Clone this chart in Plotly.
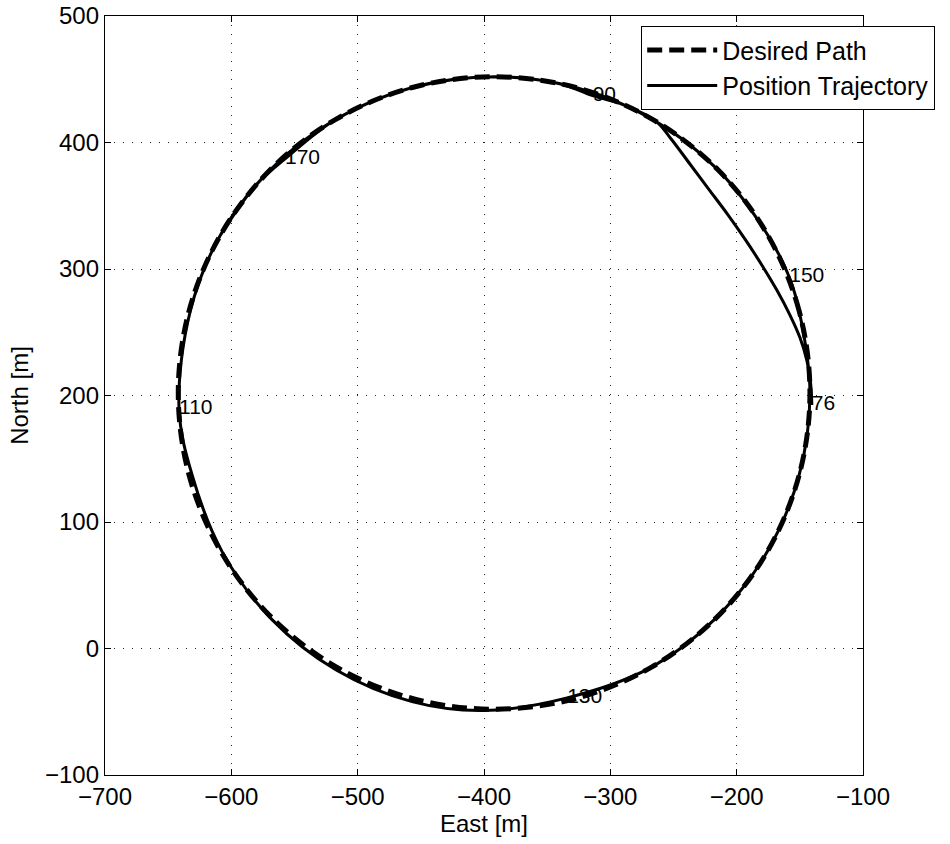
import plotly.graph_objects as go

# desired path (East, North) in metres
desired_east = [-142.0, -150.5, -175.5, -215.2, -267.0, -327.3, -392.0, -456.7,
                -517.0, -568.8, -608.5, -633.5, -642.0, -633.5, -608.5, -568.8,
                -517.0, -456.7, -392.0, -327.3, -267.0, -215.2, -175.5, -150.5, -142.0]
desired_north = [202.0, 266.7, 327.0, 378.8, 418.5, 443.5, 452.0, 443.5,
                 418.5, 378.8, 327.0, 266.7, 202.0, 137.3, 77.0, 25.2,
                 -14.5, -39.5, -48.0, -39.5, -14.5, 25.2, 77.0, 137.3, 202.0]

# position trajectory, starts at t=76 s
traj_east = [-140.5, -141.5, -144.5, -150.0, -158.0, -168.0, -180.0, -193.0,
             -207.0, -222.0, -237.0, -252.0, -264.0, -290.0, -314.0, -340.0,
             -392.0, -456.7, -517.0, -568.8, -608.5, -632.5, -641.4, -631.0,
             -607.0, -568.0, -517.0, -457.0, -400.0, -334.2, -267.0, -215.2,
             -175.5, -150.5, -142.0, -150.5, -158.4, -175.5, -215.2, -267.0,
             -327.3, -392.0, -456.7, -517.0, -557.5, -580.0, -608.5]
traj_north = [192.5, 210.0, 228.0, 246.0, 264.0, 283.0, 303.0, 323.0,
              343.0, 363.0, 383.0, 403.0, 417.0, 430.0, 437.0, 446.5,
              452.0, 443.5, 418.5, 378.8, 327.0, 266.7, 189.6, 137.0,
              76.0, 23.0, -17.0, -42.0, -49.0, -39.0, -14.5, 25.2,
              77.0, 137.3, 202.0, 266.7, 293.7, 327.0, 378.8, 418.5,
              443.5, 452.0, 443.5, 418.5, 387.0, 367.0, 327.0]

# time stamps written along the trajectory
label_text = ['76', '90', '110', '130', '150', '170']
label_east = [-140.5, -314.0, -641.4, -334.2, -158.4, -557.5]
label_north = [192.5, 437.0, 189.6, -39.0, 293.7, 387.0]

font = 'Liberation Sans, Arial, Helvetica, sans-serif'

fig = go.Figure()

fig.add_trace(go.Scatter(
    x=desired_east, y=desired_north,
    mode='lines', name='Desired Path',
    line=dict(color='black', width=5, dash='15px,7px', shape='spline'),
))

fig.add_trace(go.Scatter(
    x=traj_east, y=traj_north,
    mode='lines', name='Position Trajectory',
    line=dict(color='black', width=3, shape='spline'),
))

fig.add_trace(go.Scatter(
    x=label_east, y=label_north,
    mode='text', text=label_text, textposition='middle right',
    textfont=dict(family=font, size=21, color='black'),
    showlegend=False, hoverinfo='skip',
))

axis_style = dict(
    showgrid=True, gridcolor='#222', gridwidth=1, griddash='1px,8px',
    zeroline=False, showline=True, linecolor='black', linewidth=1.3,
    mirror='ticks', ticks='inside', ticklen=6, tickcolor='black',
    tickfont=dict(family=font, size=24, color='black'),
    dtick=100, automargin=False, ticklabeloverflow='allow',
)

fig.update_xaxes(range=[-700, -100], title=dict(text='East [m]', standoff=4,
                 font=dict(family=font, size=24, color='black')), **axis_style)
fig.update_yaxes(range=[-100, 500], title=dict(text='North [m]', standoff=9,
                 font=dict(family=font, size=24, color='black')), **axis_style)

fig.update_layout(
    width=950, height=844,
    margin=dict(l=105, r=87, t=16, b=69),
    paper_bgcolor='white', plot_bgcolor='white',
    showlegend=True,
    legend=dict(
        x=0.707, y=0.987, xanchor='left', yanchor='top',
        bgcolor='white', bordercolor='black', borderwidth=1.3,
        font=dict(family=font, size=25, color='black'),
        itemwidth=70, tracegroupgap=0,
    ),
)

# drop the page's default body margin so the figure sits at the window corner
fig.write_html('out.html', config={'displayModeBar': False},
               post_script="document.body.style.margin = '0';")
